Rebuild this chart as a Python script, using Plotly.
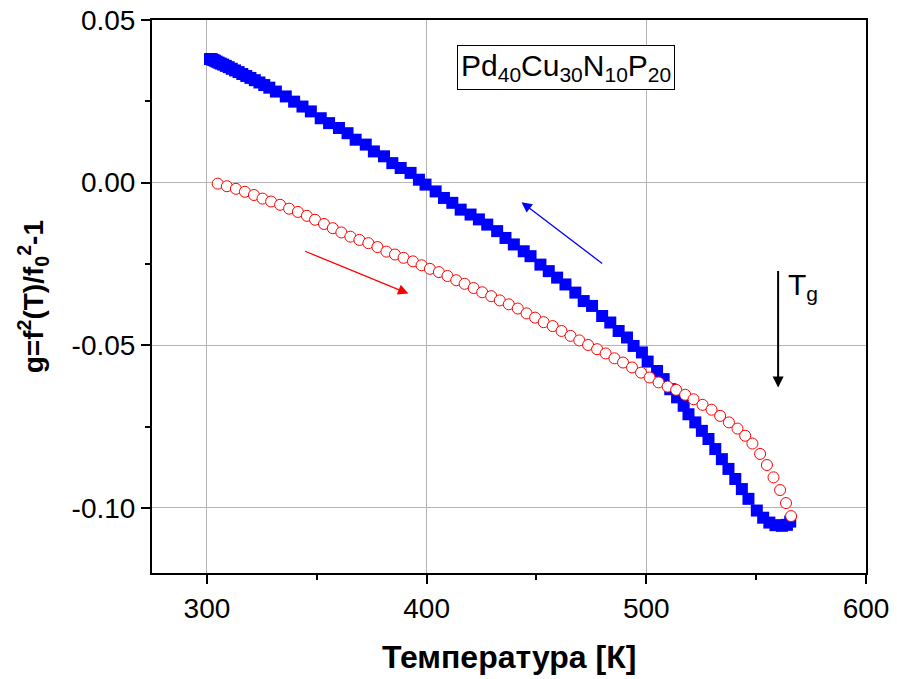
import plotly.graph_objects as go

# Heating (red open circles)
heat_T = [304.9, 309.1, 313.2, 317.3, 321.4, 325.3, 329.2, 333.3, 337.4, 341.4,
          345.5, 349.2, 353.3, 357.3, 361.2, 365.3, 369.4, 373.5, 377.6, 381.7,
          385.6, 389.5, 393.8, 397.7, 401.5, 405.6, 409.5, 413.5, 417.3, 421.4,
          425.3, 429.4, 433.3, 437.4, 441.5, 445.5, 449.4, 453.3, 457.4, 461.4,
          465.5, 469.5, 473.5, 477.6, 481.5, 485.5, 489.4, 493.5, 497.6, 501.5,
          505.6, 509.7, 513.6, 517.7, 521.5, 525.6, 529.7, 533.6, 537.6, 541.5,
          545.0, 548.3, 551.8, 554.9, 557.9, 560.9, 563.6, 565.9]
heat_g = [-0.0003, -0.0011, -0.0019, -0.0028, -0.0038, -0.0049, -0.0058, -0.0068, -0.0080, -0.0090,
          -0.0102, -0.0114, -0.0127, -0.0140, -0.0153, -0.0166, -0.0176, -0.0186, -0.0198, -0.0212,
          -0.0221, -0.0231, -0.0242, -0.0254, -0.0265, -0.0275, -0.0287, -0.0300, -0.0311, -0.0324,
          -0.0337, -0.0349, -0.0362, -0.0374, -0.0387, -0.0402, -0.0415, -0.0429, -0.0441, -0.0456,
          -0.0471, -0.0485, -0.0499, -0.0512, -0.0525, -0.0540, -0.0553, -0.0568, -0.0584, -0.0599,
          -0.0614, -0.0627, -0.0637, -0.0652, -0.0666, -0.0683, -0.0698, -0.0717, -0.0737, -0.0756,
          -0.0778, -0.0802, -0.0834, -0.0868, -0.0906, -0.0945, -0.0985, -0.1025]

# Cooling (blue filled squares)
cool_T = [301.4, 301.8, 302.3, 302.9, 303.6, 304.4, 305.3, 306.3, 307.4, 308.6,
          309.9, 311.3, 312.8, 314.4, 316.1, 317.9, 319.8, 321.8, 323.9, 326.1,
          328.4, 331.4, 335.9, 339.7, 343.5, 347.3, 351.8, 355.6, 360.1, 364.0,
          367.7, 372.3, 376.0, 380.6, 384.4, 388.2, 392.7, 396.5, 399.5, 404.1,
          407.9, 411.7, 415.5, 420.0, 423.8, 427.6, 432.1, 435.9, 439.7, 444.2,
          447.3, 451.8, 455.6, 459.4, 463.2, 467.7, 471.5, 475.3, 479.9, 483.6,
          487.4, 491.2, 494.2, 498.0, 500.6, 504.9, 507.9, 510.9, 514.0, 517.0,
          519.2, 522.3, 525.3, 528.3, 531.4, 534.4, 537.4, 540.5, 543.5, 546.5,
          550.3, 553.2, 556.0, 558.8, 561.7, 564.0, 565.5]
cool_g = [0.0380, 0.0380, 0.0379, 0.0377, 0.0375, 0.0372, 0.0369, 0.0366, 0.0363, 0.0359,
          0.0355, 0.0350, 0.0345, 0.0340, 0.0334, 0.0328, 0.0322, 0.0315, 0.0308, 0.0300,
          0.0292, 0.0280, 0.0265, 0.0249, 0.0234, 0.0219, 0.0198, 0.0183, 0.0168, 0.0152,
          0.0132, 0.0117, 0.0096, 0.0081, 0.0060, 0.0045, 0.0030, 0.0009, -0.0006, -0.0027,
          -0.0047, -0.0062, -0.0083, -0.0098, -0.0113, -0.0129, -0.0149, -0.0170, -0.0190, -0.0211,
          -0.0226, -0.0252, -0.0272, -0.0292, -0.0313, -0.0338, -0.0364, -0.0379, -0.0410, -0.0430,
          -0.0456, -0.0476, -0.0502, -0.0522, -0.0550, -0.0579, -0.0604, -0.0635, -0.0660, -0.0686,
          -0.0712, -0.0737, -0.0763, -0.0788, -0.0819, -0.0850, -0.0880, -0.0911, -0.0942, -0.0972,
          -0.1008, -0.1030, -0.1045, -0.1053, -0.1055, -0.1052, -0.1042]

x_ticks = [300, 400, 500, 600]
x_ticktext = ["300", "400", "500", "600"]
y_ticks = [0.05, 0.00, -0.05, -0.10]
y_ticktext = ["0.05", "0.00", "-0.05", "-0.10"]

FONT = "Arial, Liberation Sans, sans-serif"

fig = go.Figure()
fig.add_trace(go.Scatter(
    x=cool_T, y=cool_g, mode="markers",
    marker=dict(symbol="square", size=12, color="#0000ff", line=dict(width=0)),
    showlegend=False, cliponaxis=False))
fig.add_trace(go.Scatter(
    x=heat_T, y=heat_g, mode="markers",
    marker=dict(symbol="circle", size=11, color="white", line=dict(width=1, color="#ff0000")),
    showlegend=False, cliponaxis=False))

axis_common = dict(
    showline=True, linewidth=2, linecolor="black", mirror=True,
    ticks="outside", ticklen=9, tickwidth=1.5, tickcolor="black",
    showgrid=True, gridcolor="#b4b4b4", gridwidth=1, zeroline=False,
    tickfont=dict(family=FONT, size=28, color="black"),
    automargin=False,
)

fig.update_xaxes(range=[275, 600], tickvals=x_ticks, ticktext=x_ticktext,
                 minor=dict(ticks="outside", ticklen=5, tickwidth=1.5, tickcolor="black",
                            dtick=50, tick0=300, showgrid=False),
                 **axis_common)
fig.update_yaxes(range=[-0.12, 0.05], tickvals=y_ticks, ticktext=y_ticktext,
                 minor=dict(ticks="outside", ticklen=5, tickwidth=1.5, tickcolor="black",
                            dtick=0.025, tick0=0, showgrid=False),
                 **axis_common)

annotations = [
    dict(text="Температура [К]", xref="paper", yref="paper", x=0.5, y=-0.152,
         xanchor="center", yanchor="middle", showarrow=False,
         font=dict(family=FONT, size=32, color="black", weight="bold")),
    dict(text="g=f<sup>2</sup>(T)/f<sub>0</sub><sup>2</sup>-1", xref="paper", yref="paper",
         x=-0.167, y=0.5, xanchor="center", yanchor="middle", textangle=-90, showarrow=False,
         font=dict(family=FONT, size=28, color="black", weight="bold")),
    dict(text="Pd<sub>40</sub>Cu<sub>30</sub>N<sub>10</sub>P<sub>20</sub>", xref="paper", yref="paper",
         x=0.58, y=0.914, xanchor="center", yanchor="middle", showarrow=False,
         bordercolor="black", borderwidth=1, borderpad=3, bgcolor="white",
         font=dict(family=FONT, size=30, color="black")),
    dict(text="T<sub>g</sub>", xref="paper", yref="paper", x=0.912, y=0.518,
         xanchor="center", yanchor="middle", showarrow=False,
         font=dict(family=FONT, size=30, color="black")),
    # arrows
    dict(x=391.7, y=-0.0341, ax=344.0, ay=-0.0209, xref="x", yref="y", axref="x", ayref="y",
         text="", showarrow=True, arrowhead=2, arrowsize=1.6, arrowwidth=1.3, arrowcolor="#ff0000"),
    dict(x=443.2, y=-0.0060, ax=480.6, ay=-0.0252, xref="x", yref="y", axref="x", ayref="y",
         text="", showarrow=True, arrowhead=2, arrowsize=1.6, arrowwidth=1.3, arrowcolor="#0000ff"),
    dict(x=560.0, y=-0.0630, ax=560.0, ay=-0.0267, xref="x", yref="y", axref="x", ayref="y",
         text="", showarrow=True, arrowhead=2, arrowsize=1.1, arrowwidth=2, arrowcolor="black"),
]

fig.update_layout(
    width=897, height=679,
    margin=dict(l=152, r=31, t=20, b=106, autoexpand=False),
    paper_bgcolor="white", plot_bgcolor="white",
    font=dict(family=FONT, color="black"),
    annotations=annotations,
    showlegend=False,
)

fig.write_html("out.html")
